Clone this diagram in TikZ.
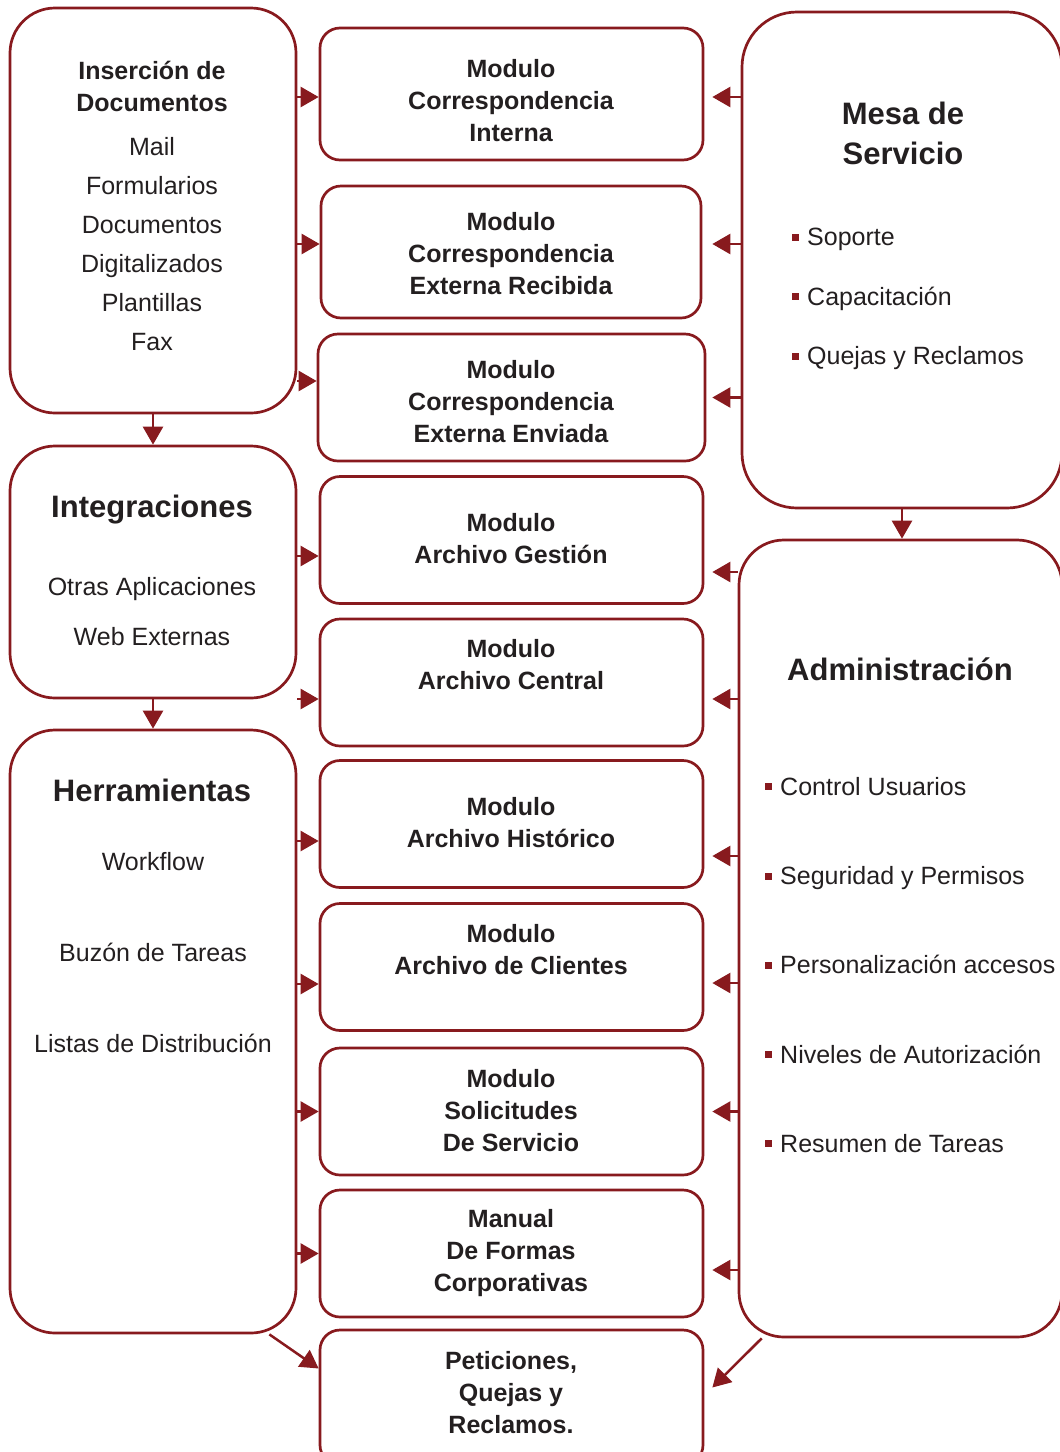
\documentclass[tikz,border=0pt]{standalone}
\usepackage{fontspec}
\setmainfont{Liberation Sans}
\usetikzlibrary{arrows.meta}

\definecolor{vino}{RGB}{136,26,30}
\definecolor{texto}{RGB}{35,31,32}
\newcommand{\vineta}{{\color{vino}\rule[5pt]{7pt}{7pt}}\hspace{8pt}}

\begin{document}
\begin{tikzpicture}[x=1pt,y=-1pt,
  caja/.style={draw=vino, line width=2.7pt, rounded corners=45pt, inner sep=0pt},
  modulo/.style={draw=vino, line width=2.7pt, rounded corners=20pt, inner sep=0pt,
    minimum width=383pt, minimum height=127pt},
  flecha/.style={draw=vino, line width=2.5pt, -{Triangle[length=18pt,width=20pt]}},
  titulo/.style={text=texto, align=center, font=\bfseries\fontsize{31}{40}\selectfont},
  negrita/.style={text=texto, align=center, font=\bfseries\fontsize{25}{32}\selectfont},
  lista/.style={text=texto, align=center, font=\fontsize{25}{39}\selectfont}
]
  \useasboundingbox (0,0) rectangle (1060,1452);

  % columna izquierda
  \node[caja, minimum width=286pt, minimum height=405pt] (ins) at (153,210.5) {};
  \node[caja, minimum width=286pt, minimum height=252pt] (itg) at (153,572) {};
  \node[caja, minimum width=286pt, minimum height=603pt] (her) at (153,1031.5) {};

  \node[negrita] (ins-t) at (152,86) {Inserción de\\Documentos};
  \node[lista] (ins-l) at (152,244) {Mail\\Formularios\\Documentos\\Digitalizados\\Plantillas\\Fax};
  \node[titulo] (itg-t) at (152,510) {Integraciones};
  \node[lista, font=\fontsize{25}{50}\selectfont] (itg-l) at (152,612) {Otras Aplicaciones\\Web Externas};
  \node[titulo] (her-t) at (152,790) {Herramientas};
  \node[lista, font=\fontsize{25}{91}\selectfont] (her-l) at (153,953) {Workflow\\Buzón de Tareas\\Listas de Distribución};

  % modulos
  \node[modulo, minimum height=132pt] (ci) at (511.5,94) {};
  \node[modulo, minimum height=132pt, minimum width=380pt] (cer) at (511,252) {};
  \node[modulo, minimum width=387pt] (cee) at (511.5,397.5) {};
  \node[modulo] (ag) at (511.5,540) {};
  \node[modulo] (ac) at (511.5,682.5) {};
  \node[modulo] (ah) at (511.5,824) {};
  \node[modulo] (acl) at (511.5,967) {};
  \node[modulo] (sol) at (511.5,1111.5) {};
  \node[modulo] (man) at (511.5,1253.5) {};
  \node[modulo, minimum height=135pt] (pet) at (511.5,1397.5) {};

  \node[negrita] (ci-t) at (511,101) {Modulo\\Correspondencia\\Interna};
  \node[negrita] (cer-t) at (511,254) {Modulo\\Correspondencia\\Externa Recibida};
  \node[negrita] (cee-t) at (511,402) {Modulo\\Correspondencia\\Externa Enviada};
  \node[negrita] (ag-t) at (511,538.5) {Modulo\\Archivo Gestión};
  \node[negrita] (ac-t) at (511,665) {Modulo\\Archivo Central};
  \node[negrita] (ah-t) at (511,823) {Modulo\\Archivo Histórico};
  \node[negrita] (acl-t) at (511,949.5) {Modulo\\Archivo de Clientes};
  \node[negrita] (sol-t) at (511,1110.5) {Modulo\\Solicitudes\\De Servicio};
  \node[negrita] (man-t) at (511,1253.5) {Manual\\De Formas\\Corporativas};
  \node[negrita] (pet-t) at (511,1392.5) {Peticiones,\\Quejas y\\Reclamos.};

  % columna derecha
  \node[caja, rounded corners=55pt, minimum width=320pt, minimum height=496pt] (mesa) at (902,260) {};
  \node[caja, minimum width=323pt, minimum height=797pt] (adm) at (900.5,938.5) {};

  \node[titulo] (mesa-t) at (903,133) {Mesa de\\Servicio};
  \node[lista, anchor=west, align=left, inner sep=0pt, font=\fontsize{25}{59.5}\selectfont] (mesa-l) at (792,299)
    {\vineta Soporte\\\vineta Capacitación\\\vineta Quejas y Reclamos};
  \node[titulo] (adm-t) at (900,669) {Administración};
  \node[lista, anchor=west, align=left, inner sep=0pt, font=\fontsize{25}{89.25}\selectfont] (adm-l) at (765,965)
    {\vineta Control Usuarios\\\vineta Seguridad y Permisos\\\vineta Personalización accesos\\
     \vineta Niveles de Autorización\\\vineta Resumen de Tareas};

  % flechas izquierda
  \draw[flecha] ([yshift=-3pt]ci.west -| ins.east) -- ([yshift=-3pt]ci.west);
  \draw[flecha] ([yshift=8pt]cer.west -| ins.east) -- ([yshift=8pt]cer.west);
  \draw[flecha] ([yshift=16.5pt]cee.west -| ins.east) -- ([yshift=16.5pt]cee.west);
  \draw[flecha] ([yshift=-16pt]ag.west -| itg.east) -- ([yshift=-16pt]ag.west);
  \draw[flecha] ([yshift=-16.5pt]ac.west -| itg.east) -- ([yshift=-16.5pt]ac.west);
  \draw[flecha] ([yshift=-17pt]ah.west -| her.east) -- ([yshift=-17pt]ah.west);
  \draw[flecha] ([yshift=-17pt]acl.west -| her.east) -- ([yshift=-17pt]acl.west);
  \draw[flecha] (sol.west -| her.east) -- (sol.west);
  \draw[flecha] (man.west -| her.east) -- (man.west);

  % flechas derecha
  \draw[flecha] ([yshift=-3pt]ci.east -| mesa.west) -- ([xshift=8pt,yshift=-3pt]ci.east);
  \draw[flecha] ([yshift=8pt]cer.east -| mesa.west) -- ([xshift=10pt,yshift=8pt]cer.east);
  \draw[flecha] (cee.east -| mesa.west) -- ([xshift=6pt]cee.east);
  \draw[flecha] ([yshift=-32pt]ag.east -| adm.west) -- ([xshift=8pt,yshift=-32pt]ag.east);
  \draw[flecha] ([yshift=-16.5pt]ac.east -| adm.west) -- ([xshift=8pt,yshift=-16.5pt]ac.east);
  \draw[flecha] ([yshift=-32pt]ah.east -| adm.west) -- ([xshift=8pt,yshift=-32pt]ah.east);
  \draw[flecha] ([yshift=-16pt]acl.east -| adm.west) -- ([xshift=8pt,yshift=-16pt]acl.east);
  \draw[flecha] (sol.east -| adm.west) -- ([xshift=8pt]sol.east);
  \draw[flecha] ([yshift=-16.5pt]man.east -| adm.west) -- ([xshift=8pt,yshift=-16.5pt]man.east);

  % flechas verticales
  \draw[flecha] (ins.south) -- (itg.north);
  \draw[flecha] (itg.south) -- (her.north);
  \draw[flecha] (mesa.south) -- (mesa.south |- adm.north);

  % flechas a peticiones
  \draw[flecha] ([xshift=-28pt]her.south east) -- ([yshift=29pt]pet.west);
  \draw[flecha] ([xshift=24pt]adm.south west) -- ([xshift=8pt,yshift=10pt]pet.east);
\end{tikzpicture}
\end{document}
